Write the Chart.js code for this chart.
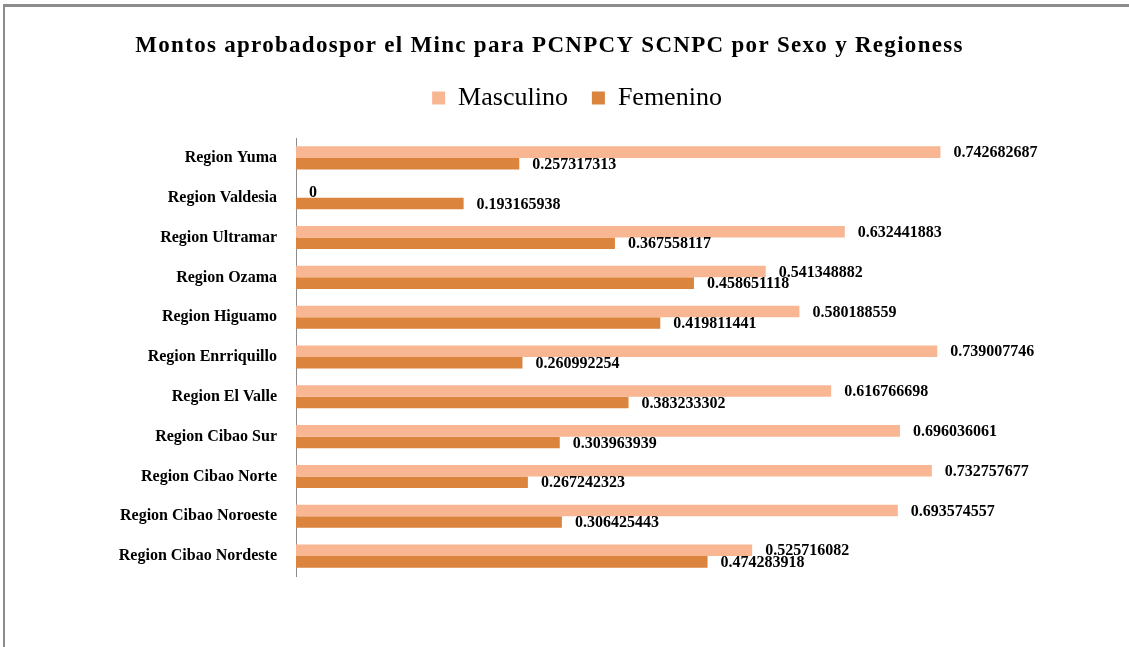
<!DOCTYPE html>
<html>
<head>
<meta charset="utf-8">
<script src="https://cdn.jsdelivr.net/npm/chart.js@4/dist/chart.umd.min.js"></script>
<style>
html,body{margin:0;padding:0;background:#fff;}
#wrap{position:relative;width:1129px;height:647px;}
</style>
</head>
<body>
<div id="wrap"><canvas id="c" width="1129" height="647"></canvas></div>
<script>
const chartTitle = 'Montos aprobadospor el Minc para PCNPCY SCNPC por Sexo y Regioness';
const categories = ['Region Yuma','Region Valdesia','Region Ultramar','Region Ozama','Region Higuamo','Region Enrriquillo','Region El Valle','Region Cibao Sur','Region Cibao Norte','Region Cibao Noroeste','Region Cibao Nordeste'];
const seriesNames = ['Masculino','Femenino'];
const masculino = [0.742682687, 0, 0.632441883, 0.541348882, 0.580188559, 0.739007746, 0.616766698, 0.696036061, 0.732757677, 0.693574557, 0.525716082];
const femenino = [0.257317313, 0.193165938, 0.367558117, 0.458651118, 0.419811441, 0.260992254, 0.383233302, 0.303963939, 0.267242323, 0.306425443, 0.474283918];

const SERIF = '"Liberation Serif", "Times New Roman", serif';

const framePlugin = {
  id: 'frame',
  beforeDraw(chart) {
    const ctx = chart.ctx;
    ctx.save();
    ctx.fillStyle = '#fff';
    ctx.fillRect(0, 0, chart.width, chart.height);
    ctx.fillStyle = '#8c8c8c';
    ctx.fillRect(3, 4, chart.width - 3, 3);
    ctx.fillRect(3, 4, 2, chart.height - 4);
    // title
    ctx.fillStyle = '#000';
    ctx.font = 'bold 23px ' + SERIF;
    ctx.textBaseline = 'alphabetic';
    ctx.textAlign = 'left';
    const target = 827;
    const w = ctx.measureText(chartTitle).width;
    const sp = (target - w) / (chartTitle.length - 1);
    if ('letterSpacing' in ctx) ctx.letterSpacing = sp.toFixed(2) + 'px';
    const w2 = ctx.measureText(chartTitle).width;
    ctx.fillText(chartTitle, 549.5 - w2 / 2, 52);
    if ('letterSpacing' in ctx) ctx.letterSpacing = '0px';
    ctx.restore();
  }
};

const valueLabels = {
  id: 'valueLabels',
  afterDatasetsDraw(chart) {
    const ctx = chart.ctx;
    ctx.save();
    ctx.font = 'bold 16px ' + SERIF;
    ctx.fillStyle = '#000';
    ctx.textAlign = 'left';
    ctx.textBaseline = 'middle';
    chart.data.datasets.forEach((ds, i) => {
      const meta = chart.getDatasetMeta(i);
      meta.data.forEach((bar, j) => {
        ctx.fillText(String(ds.data[j]), bar.x + 13, bar.y + 1);
      });
    });
    ctx.restore();
  }
};

new Chart(document.getElementById('c'), {
  type: 'bar',
  data: {
    labels: categories,
    datasets: [
      { label: seriesNames[0], data: masculino, backgroundColor: '#F8B693', borderWidth: 0 },
      { label: seriesNames[1], data: femenino, backgroundColor: '#DB843E', borderWidth: 0 }
    ]
  },
  options: {
    indexAxis: 'y',
    responsive: false,
    animation: false,
    devicePixelRatio: 1,
    categoryPercentage: 0.58,
    barPercentage: 1.0,
    layout: { padding: { top: 61, left: 25, right: 0, bottom: 71 } },
    plugins: {
      title: { display: false },
      tooltip: { enabled: false },
      legend: {
        display: true,
        position: 'top',
        align: 'center',
        labels: {
          color: '#000',
          boxWidth: 13,
          boxHeight: 13,
          padding: 24,
          font: { family: SERIF, size: 26, weight: 'normal' }
        }
      }
    },
    scales: {
      x: {
        position: 'top',
        min: 0,
        max: 0.96,
        display: true,
        grid: { display: false, drawTicks: false },
        border: { display: false },
        ticks: { display: false },
        afterFit(s) { s.height = 17; }
      },
      y: {
        grid: { display: false, drawTicks: false },
        border: { display: true, color: '#8c8c8c', width: 1 },
        ticks: {
          color: '#000',
          padding: 19,
          font: { family: SERIF, size: 16, weight: 'bold' }
        },
        afterFit(s) { s.width = 271; }
      }
    }
  },
  plugins: [framePlugin, valueLabels]
});
</script>
</body>
</html>
